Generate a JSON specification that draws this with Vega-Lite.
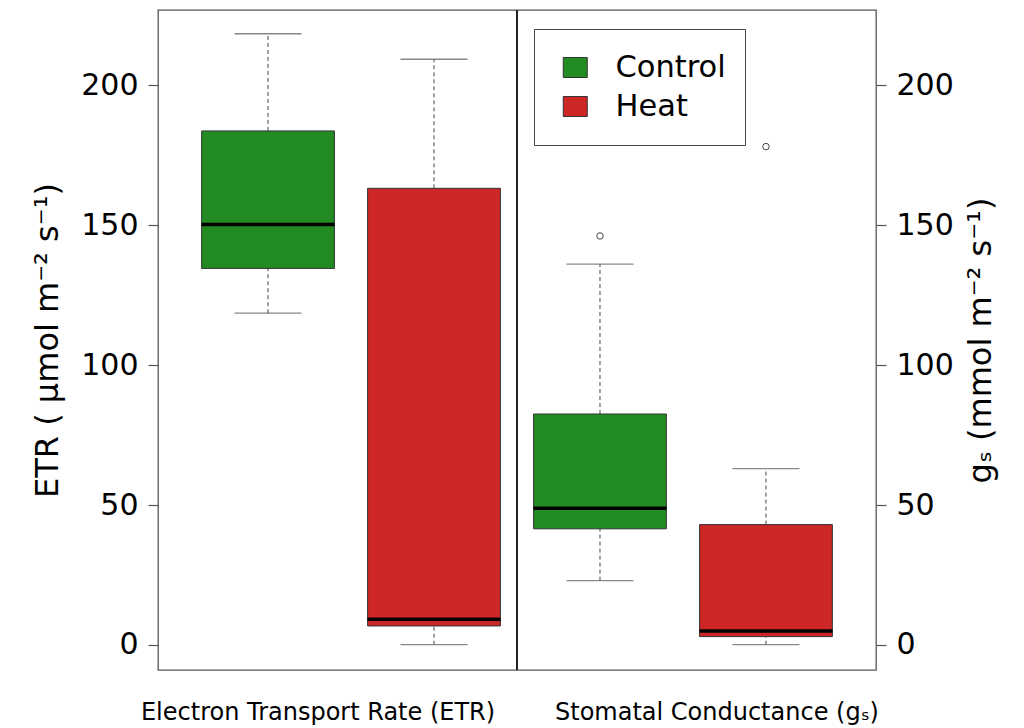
{
  "$schema": "https://vega.github.io/schema/vega-lite/v6.json",
  "autosize": {"type": "none"},
  "width": 718,
  "height": 660,
  "padding": {"left": 158, "top": 10, "right": 148, "bottom": 58},
  "background": "white",
  "config": {
    "font": "DejaVu Sans",
    "view": {"stroke": "#555555", "strokeWidth": 1.3},
    "legend": {
      "orient": "none",
      "legendX": 376,
      "legendY": 19,
      "strokeColor": "#444444",
      "fillColor": "white",
      "padding": 19,
      "symbolOffset": 7,
      "labelOffset": 25,
      "rowPadding": 0,
      "clipHeight": 39,
      "labelFontSize": 30.5,
      "labelColor": "black",
      "symbolSize": 400,
      "symbolType": "M-1.2,-1H1.2V1H-1.2Z",
      "symbolStrokeColor": "#333333",
      "symbolStrokeWidth": 1,
      "symbolOpacity": 1
    }
  },
  "datasets": {
    "boxes": [
      {"box": "ETR Control", "variable": "ETR", "treatment": "Control", "lo": 118.5, "q1": 134.5, "med": 150.2, "q3": 183.6, "hi": 218.3},
      {"box": "ETR Heat", "variable": "ETR", "treatment": "Heat", "lo": 0.1, "q1": 6.8, "med": 9.2, "q3": 163.1, "hi": 209.2},
      {"box": "gs Control", "variable": "gs", "treatment": "Control", "lo": 23.0, "q1": 41.5, "med": 48.8, "q3": 82.5, "hi": 136.0},
      {"box": "gs Heat", "variable": "gs", "treatment": "Heat", "lo": 0.1, "q1": 3.0, "med": 5.0, "q3": 43.0, "hi": 63.0}
    ],
    "outliers": [
      {"box": "gs Control", "treatment": "Control", "value": 146.1},
      {"box": "gs Heat", "treatment": "Heat", "value": 178.0}
    ]
  },
  "data": {"name": "boxes"},
  "resolve": {"axis": {"y": "independent"}},
  "layer": [
    {
      "mark": {"type": "rule", "color": "#444444", "strokeDash": [4, 3], "strokeWidth": 1},
      "encoding": {
        "x": {
          "field": "box", "type": "nominal",
          "scale": {"domain": ["ETR Control", "ETR Heat", "gs Control", "gs Heat"], "paddingInner": 0, "paddingOuter": 0.163},
          "axis": {
            "title": null,
            "ticks": false,
            "domain": false,
            "labelAngle": 0,
            "labelFontSize": 24,
            "labelColor": "black",
            "labelPadding": 30,
            "labelOverlap": false,
            "labelBound": false,
            "labelFlush": false,
            "labelLimit": 0,
            "labelOffset": {"condition": {"test": "datum.value == 'ETR Control'", "value": 50}, "value": -49},
            "labelExpr": "datum.value == 'ETR Control' ? 'Electron Transport Rate (ETR)' : (datum.value == 'gs Heat' ? 'Stomatal Conductance (gₛ)' : '')"
          }
        },
        "y": {
          "field": "q3", "type": "quantitative",
          "scale": {"domain": [-8.93, 226.79], "nice": false, "zero": false},
          "axis": {
            "orient": "left",
            "values": [0, 50, 100, 150, 200],
            "grid": false,
            "domain": false,
            "tickSize": 10,
            "tickColor": "#555555",
            "tickWidth": 1.2,
            "labelFontSize": 30,
            "labelColor": "black",
            "labelPadding": 10,
            "title": "ETR ( μmol m⁻² s⁻¹)",
            "titleFontSize": 32,
            "titleFontWeight": "normal",
            "titleColor": "black",
            "titlePadding": 16
          }
        },
        "y2": {"field": "hi"}
      }
    },
    {
      "mark": {"type": "rule", "color": "#444444", "strokeDash": [4, 3], "strokeWidth": 1},
      "encoding": {
        "x": {"field": "box", "type": "nominal"},
        "y": {"field": "lo", "type": "quantitative", "axis": {
            "orient": "right",
            "values": [0, 50, 100, 150, 200],
            "grid": false,
            "domain": false,
            "tickSize": 10,
            "tickColor": "#555555",
            "tickWidth": 1.2,
            "labelFontSize": 30,
            "labelColor": "black",
            "labelPadding": 10,
            "title": "gₛ (mmol m⁻² s⁻¹)",
            "titleAngle": 270,
            "titleBaseline": "top",
            "titleFontSize": 32,
            "titleFontWeight": "normal",
            "titleColor": "black",
            "titlePadding": 12
          }},
        "y2": {"field": "q1"}
      }
    },
    {
      "mark": {"type": "tick", "color": "#555555", "size": 67, "thickness": 1.3},
      "encoding": {
        "x": {"field": "box", "type": "nominal"},
        "y": {"field": "hi", "type": "quantitative", "axis": null}
      }
    },
    {
      "mark": {"type": "tick", "color": "#555555", "size": 67, "thickness": 1.3},
      "encoding": {
        "x": {"field": "box", "type": "nominal"},
        "y": {"field": "lo", "type": "quantitative", "axis": null}
      }
    },
    {
      "mark": {"type": "bar", "width": {"band": 0.8}, "stroke": "#333333", "strokeWidth": 1, "opacity": 1},
      "encoding": {
        "x": {"field": "box", "type": "nominal"},
        "y": {"field": "q1", "type": "quantitative", "axis": null},
        "y2": {"field": "q3"},
        "fill": {
          "field": "treatment", "type": "nominal",
          "scale": {"domain": ["Control", "Heat"], "range": ["#228B22", "#CD2626"]},
          "legend": {"title": null}
        }
      }
    },
    {
      "mark": {"type": "tick", "color": "black", "size": 133, "thickness": 3.5, "opacity": 1},
      "encoding": {
        "x": {"field": "box", "type": "nominal"},
        "y": {"field": "med", "type": "quantitative", "axis": null}
      }
    },
    {
      "data": {"name": "outliers"},
      "mark": {"type": "point", "shape": "circle", "filled": false, "size": 42, "stroke": "#444444", "strokeWidth": 1, "opacity": 1},
      "encoding": {
        "x": {"field": "box", "type": "nominal"},
        "y": {"field": "value", "type": "quantitative", "axis": null}
      }
    },
    {
      "mark": {"type": "rule", "color": "#222222", "strokeWidth": 2},
      "encoding": {
        "x": {"datum": "gs Control", "bandPosition": 0}
      }
    }
  ]
}
